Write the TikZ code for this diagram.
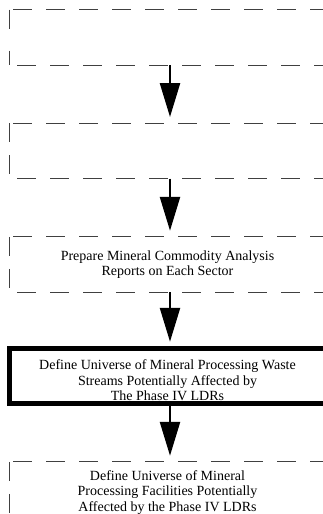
\documentclass[tikz,border=0pt]{standalone}
\usepackage{fontspec}
\setmainfont{Liberation Serif}
\usetikzlibrary{arrows.meta}
\tikzset{box/.style={rectangle, minimum width = 317pt, minimum height = 55.5pt,
    inner sep = 0pt, outer sep = 0pt, align = center,
    font = \fontsize{14}{15.5}\selectfont},
  lowtext/.style={text height = #1},
  thickbox/.style={box, draw = black, line width = 5pt},
  edgeh/.style={draw = black!75, line width = 0.9pt},
  flow/.style={-{Triangle[length = 34pt, width = 20pt]}, line width = 2.5pt}
}

\begin{document}
\begin{tikzpicture}[x = 1pt, y = -1pt]
    \useasboundingbox (0, 0) rectangle (322, 514);
    \draw (167.5, 37.25) node[box] (b1) {};
    \draw (167.5, 150.75) node[box] (b2) {};
    \draw (167.5, 264.5) node[box]
    (b3) {Prepare Mineral Commodity Analysis\\Reports on Each Sector};
    \draw (167.5, 376) node[thickbox, lowtext = 49.6pt]
    (b4) {Define Universe of Mineral Processing Waste\\Streams Potentially Affected by\\The Phase IV LDRs};
    \draw (167.5, 489.5) node[box, lowtext = 46.6pt]
    (b5) {Define Universe of Mineral\\Processing Facilities Potentially\\Affected by the Phase IV LDRs};
    % dashed frames, each side on its own
    \foreach \b/\gap in {b1/22, b2/13, b3/13, b5/13} {
      \draw[edgeh, dash pattern = on 19pt off 14pt, dash phase = 29pt]
      (\b.north west) -- (\b.north east);
      \draw[edgeh, dash pattern = on 19pt off 14pt, dash phase = 25pt]
      (\b.south west) -- (\b.south east);
      \draw[edgeh, dash pattern = on 19pt off \gap pt]
      (\b.north west) -- (\b.south west);
      \draw[edgeh, dash pattern = on 19pt off \gap pt]
      (\b.north east) -- (\b.south east);
    }
    \draw[flow] ([xshift = 2.5pt]b1.south) -- ([xshift = 2.5pt, yshift = 6pt]b2.north);
    \draw[flow] ([xshift = 2.5pt]b2.south) -- ([xshift = 2.5pt, yshift = 6pt]b3.north);
    \draw[flow] ([xshift = 2.5pt]b3.south) -- ([xshift = 2.5pt, yshift = 6.5pt]b4.north);
    \draw[flow] ([xshift = 2.5pt]b4.south) -- ([xshift = 2.5pt, yshift = 6pt]b5.north);
  \end{tikzpicture}
\end{document}
